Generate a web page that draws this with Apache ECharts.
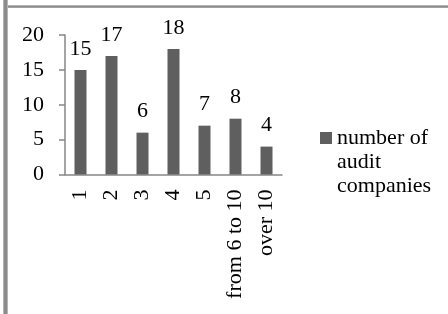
<!DOCTYPE html>
<html>
<head>
<meta charset="utf-8">
<script src="https://cdn.jsdelivr.net/npm/echarts@6/dist/echarts.min.js"></script>
<style>
html, body { margin: 0; padding: 0; background: #fff; }
#chart { width: 448px; height: 314px; }
</style>
</head>
<body>
<div id="chart"></div>
<script>
var categories = ['1', '2', '3', '4', '5', 'from 6 to 10', 'over 10'];
var companies = [15, 17, 6, 18, 7, 8, 4];
var seriesName = 'number of\naudit\ncompanies';
var yTicks = [0, 5, 10, 15, 20];

var serif = 'Liberation Serif';
var axisGray = '#868686';
var fs = 22;

echarts.init(document.getElementById('chart')).setOption({
    animation: false,
    backgroundColor: '#fff',
    graphic: [
        // frame lines of the original sheet
        {type: 'rect', shape: {x: 3, y: 0, width: 5, height: 314}, style: {fill: '#b4b4b4'}},
        {type: 'rect', shape: {x: 4, y: 0, width: 3, height: 314}, style: {fill: '#8c8c8c'}},
        {type: 'rect', shape: {x: 8, y: 5, width: 440, height: 3}, style: {fill: '#b4b4b4'}},
        {type: 'rect', shape: {x: 8, y: 6, width: 440, height: 1.5}, style: {fill: '#8c8c8c'}}
    ],
    grid: {
        left: 65,
        right: 166,
        top: 35,
        bottom: 139.5
    },
    legend: {
        left: 320,
        top: 78,
        padding: 0,
        itemWidth: 12,
        itemHeight: 12,
        icon: 'rect',
        selectedMode: false,
        data: [seriesName],
        // two blank lines on top keep the icon level with the first line
        formatter: function (name) {
            return '\n\n' + name;
        },
        textStyle: {
            fontFamily: serif,
            fontSize: fs,
            color: '#000',
            lineHeight: 24
        }
    },
    xAxis: {
        type: 'category',
        data: categories,
        axisLine: {lineStyle: {color: axisGray, width: 1.5}},
        axisTick: {length: 7, lineStyle: {color: axisGray, width: 1.5}},
        axisLabel: {
            rotate: 90,
            margin: 15,
            interval: 0,
            fontFamily: serif,
            fontSize: fs,
            color: '#000'
        }
    },
    yAxis: {
        type: 'value',
        min: yTicks[0],
        max: yTicks[yTicks.length - 1],
        interval: 5,
        splitLine: {show: false},
        axisLine: {show: true, lineStyle: {color: axisGray, width: 1.5}},
        axisTick: {show: true, length: 6, lineStyle: {color: axisGray, width: 1.5}},
        axisLabel: {
            margin: 21,
            fontFamily: serif,
            fontSize: fs,
            color: '#000'
        }
    },
    series: [{
        name: seriesName,
        type: 'bar',
        data: companies,
        barWidth: 12,
        itemStyle: {color: '#5f5f5f'},
        label: {
            show: true,
            position: 'top',
            distance: 10,
            fontFamily: serif,
            fontSize: fs,
            color: '#000'
        }
    }]
});
</script>
</body>
</html>
